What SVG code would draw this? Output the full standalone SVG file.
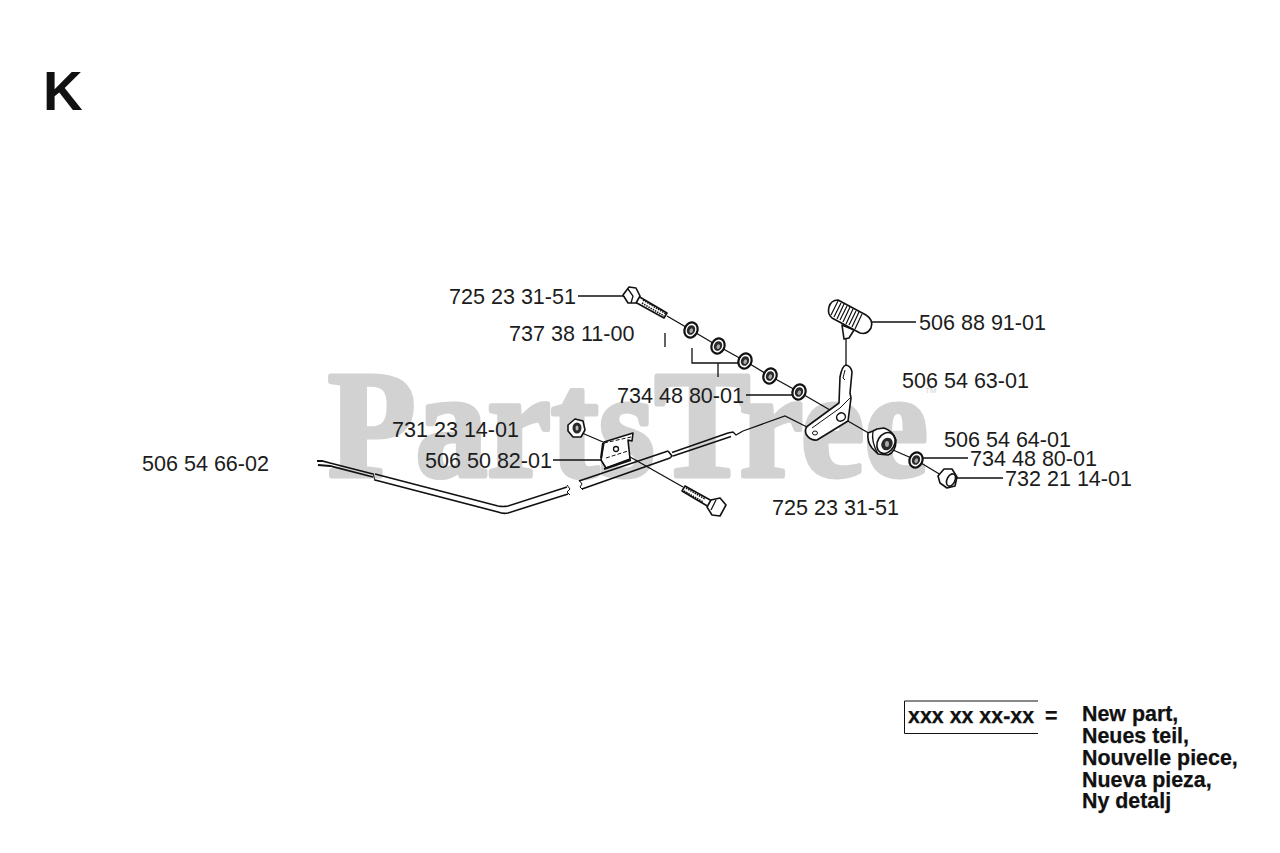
<svg xmlns="http://www.w3.org/2000/svg" width="1280" height="853" viewBox="0 0 1280 853">
<style>
.lb{font-family:"Liberation Sans",Arial,sans-serif;font-size:21.55px;fill:#1c1c1c}
.bd{font-family:"Liberation Sans",Arial,sans-serif;font-size:21.4px;font-weight:bold;fill:#111;stroke:#111;stroke-width:.25}
.ln{fill:none;stroke:#111;stroke-width:1.3}
.pt{fill:#fff;stroke:#111;stroke-width:1.6;stroke-linejoin:round}
.th{fill:none;stroke:#111;stroke-width:1.5;stroke-dasharray:1.5 1}
</style>
<defs>
<g id="washer"><ellipse rx="6.4" ry="7.8" transform="rotate(25)" fill="#fff" stroke="#111" stroke-width="2.2"/><ellipse rx="4" ry="5" transform="rotate(25)" fill="#2a2a2a"/><ellipse cx=".5" cy=".5" rx="1.7" ry="2.4" transform="rotate(25)" fill="#aaa"/></g>
</defs>
<rect width="1280" height="853" fill="#fff"/>
<g id="watermark">
<text x="328" y="476" textLength="600" lengthAdjust="spacingAndGlyphs" font-family="'Liberation Serif',serif" font-weight="bold" font-size="153" fill="#d2d2d2" stroke="#d2d2d2" stroke-width="5" stroke-linejoin="round">PartsTree</text>
<text x="925" y="393" font-family="'Liberation Sans',sans-serif" font-size="8" fill="#d2d2d2">TM</text>
</g>
<text id="title" x="43" y="110" font-family="'Liberation Sans',Arial,sans-serif" font-weight="bold" font-size="55" fill="#111">K</text>
<g id="connectors">
<path class="ln" d="M578 296H625M872 322H916M746 395H792M553 460H601M923 458H968M957 478H1003"/>
<path class="ln" d="M665 333V347M692 348V363H740M718 363V377"/>
<path class="ln" d="M667 316L691 330L718 346L745 361L770 376L799 392L830 410M841 417L872 435M893 450L916 460L946 478"/>
<path class="ln" d="M846 338V366"/>
<path class="ln" d="M582 433L603 442M616 449L683 487"/>
</g>
<g id="cable">
<path d="M375 474L498 506Q503 507 508 506L567 487M375 480L498 512Q503 514 508 513L568 494" fill="none" stroke="#111" stroke-width="1.6"/>
<path d="M373 473L375 481M567 485L570 489L567 492L570 495M579 480L582 484L580 487L583 490" fill="none" stroke="#111" stroke-width="1"/>
<path d="M579 481L668 451M582 489L670 458M668 451L672 456L670 458" fill="none" stroke="#111" stroke-width="1.6"/>
<path d="M672 452.500L728 433M673 456L731 436.500M728 433L733 432L736 435L743 431" fill="none" stroke="#111" stroke-width="1.4"/>
<path d="M743 431L785 416L807 427" fill="none" stroke="#111" stroke-width="1.2"/>
<path d="M317 461L322 461L330 463L373 474M318 465L330 466L373 477" fill="none" stroke="#111" stroke-width="1.8"/>
</g>
<g id="part-725-23-31-51-a">
<path class="pt" d="M638 296L667 313L664 318L635 302Z"/>
<path class="th" d="M643 300L666 314M642 303L664 316"/>
<path class="pt" d="M623 295L629 287L636 288L640 296L636 303L628 303Z"/>
<path class="ln" d="M628 289L633 296L631 303"/>
</g>
<g id="part-737-38-11-00">
<use href="#washer" x="691" y="330"/>
<use href="#washer" x="718" y="346"/>
<use href="#washer" x="745" y="361"/>
<use href="#washer" x="770" y="376"/>
</g>
<g id="part-734-48-80-01-a"><use href="#washer" x="799" y="392"/></g>
<g id="part-506-88-91-01">
<path class="pt" d="M842 325L854 330L849 338L844 339Z"/>
<path class="pt" d="M838 300L866 315Q874 320 871 328Q867 335 860 333L832 318Q827 314 829 307Q831 300 838 300Z"/>
<path fill="none" stroke="#111" stroke-width="1.2" d="M838 301L831 315M841 303L834 317M844 304L837 319M847 306L840 320M850 307L843 322M853 309L846 324M856 311L849 325M859 312L852 327M862 314L855 329"/>
</g>
<g id="part-506-54-63-01">
<path class="pt" d="M840 377Q842 366 846 365Q851 366 852 372L850 393L851 398L848 421L817 440Q810 441 806 434Q804 428 809 425L839 403Z"/>
<path fill="none" stroke="#111" stroke-width="1" d="M845 370L843 378L845 380M812 428L840 408L851 397"/>
<ellipse cx="841" cy="417" rx="4.500" ry="4" fill="#fff" stroke="#111" stroke-width="1.5" transform="rotate(-30 841 417)"/>
<ellipse cx="815" cy="433" rx="2.500" ry="2" fill="#fff" stroke="#111"/>
</g>
<g id="part-506-54-64-01">
<path class="pt" d="M868 433L873 431L877 429L884 428Q893 431 896 440Q896 452 888 455L878 454L872 448Q867 442 868 433Z" stroke-width="2"/>
<path class="ln" d="M873 431Q871 442 878 454"/>
<ellipse cx="886" cy="443" rx="8.500" ry="11" transform="rotate(30 886 443)" fill="#fff" stroke="#111" stroke-width="1.600"/>
<ellipse cx="887" cy="444" rx="5.500" ry="6.500" transform="rotate(30 887 444)" fill="#2a2a2a"/>
<ellipse cx="887" cy="444" rx="2" ry="3" fill="#aaa"/>
</g>
<g id="part-734-48-80-01-b"><use href="#washer" x="916" y="460"/></g>
<g id="part-732-21-14-01">
<path class="pt" d="M938 476L944 469L952 469L957 477L955 486L947 488L940 483Z" stroke-width="2"/>
<ellipse cx="951" cy="480" rx="4" ry="6.500" transform="rotate(25 951 480)" fill="#fff" stroke="#111" stroke-width="1.600"/>
</g>
<g id="part-731-23-14-01">
<path class="pt" d="M568 425L575 419L583 421L585 430L581 437L573 437L568 431Z" stroke-width="2"/>
<ellipse cx="577" cy="428" rx="4.500" ry="5.500" fill="#2a2a2a"/>
<ellipse cx="577" cy="428" rx="1.500" ry="2.500" fill="#bbb"/>
</g>
<g id="part-506-50-82-01">
<path class="pt" d="M604 442L633 433L632 441L628 440L630 459L606 468L601 460Z"/>
<path fill="none" stroke="#111" stroke-width="1" d="M604 443L631 437M606 458L628 451" stroke-dasharray="4 2"/>
<path d="M604 469L631 460M603 443L601 458" fill="none" stroke="#111" stroke-width="2"/>
<circle cx="616" cy="449" r="2.500" fill="#fff" stroke="#111" stroke-width="1.300"/>
</g>
<g id="part-725-23-31-51-b">
<path class="pt" d="M685 486L712 501L709 507L682 491Z"/>
<path class="th" d="M686 488L705 499M684 491L703 502"/>
<path class="pt" d="M711 500L720 498L726 505L720 516L712 515L707 507Z"/>
<path class="ln" d="M716 500L711 510"/>
</g>
<g id="labels">
<text class="lb" x="449" y="304">725 23 31-51</text>
<text class="lb" x="509" y="341">737 38 11-00</text>
<text class="lb" x="617" y="403">734 48 80-01</text>
<text class="lb" x="919" y="330">506 88 91-01</text>
<text class="lb" x="902" y="388">506 54 63-01</text>
<text class="lb" x="944" y="447">506 54 64-01</text>
<text class="lb" x="970" y="466">734 48 80-01</text>
<text class="lb" x="1005" y="486">732 21 14-01</text>
<text class="lb" x="772" y="515">725 23 31-51</text>
<text class="lb" x="392" y="437">731 23 14-01</text>
<text class="lb" x="425" y="468">506 50 82-01</text>
<text class="lb" x="142" y="471">506 54 66-02</text>
</g>
<g id="legend">
<path d="M1038 701H904.500V733.500H1038" fill="none" stroke="#111" stroke-width="1"/>
<text class="bd" x="908" y="723">xxx xx xx-xx</text>
<text class="bd" x="1045" y="723">=</text>
<text class="bd" x="1082" y="721">New part,</text>
<text class="bd" x="1082" y="743">Neues teil,</text>
<text class="bd" x="1082" y="765">Nouvelle piece,</text>
<text class="bd" x="1082" y="787">Nueva pieza,</text>
<text class="bd" x="1082" y="808">Ny detalj</text>
</g>
</svg>
